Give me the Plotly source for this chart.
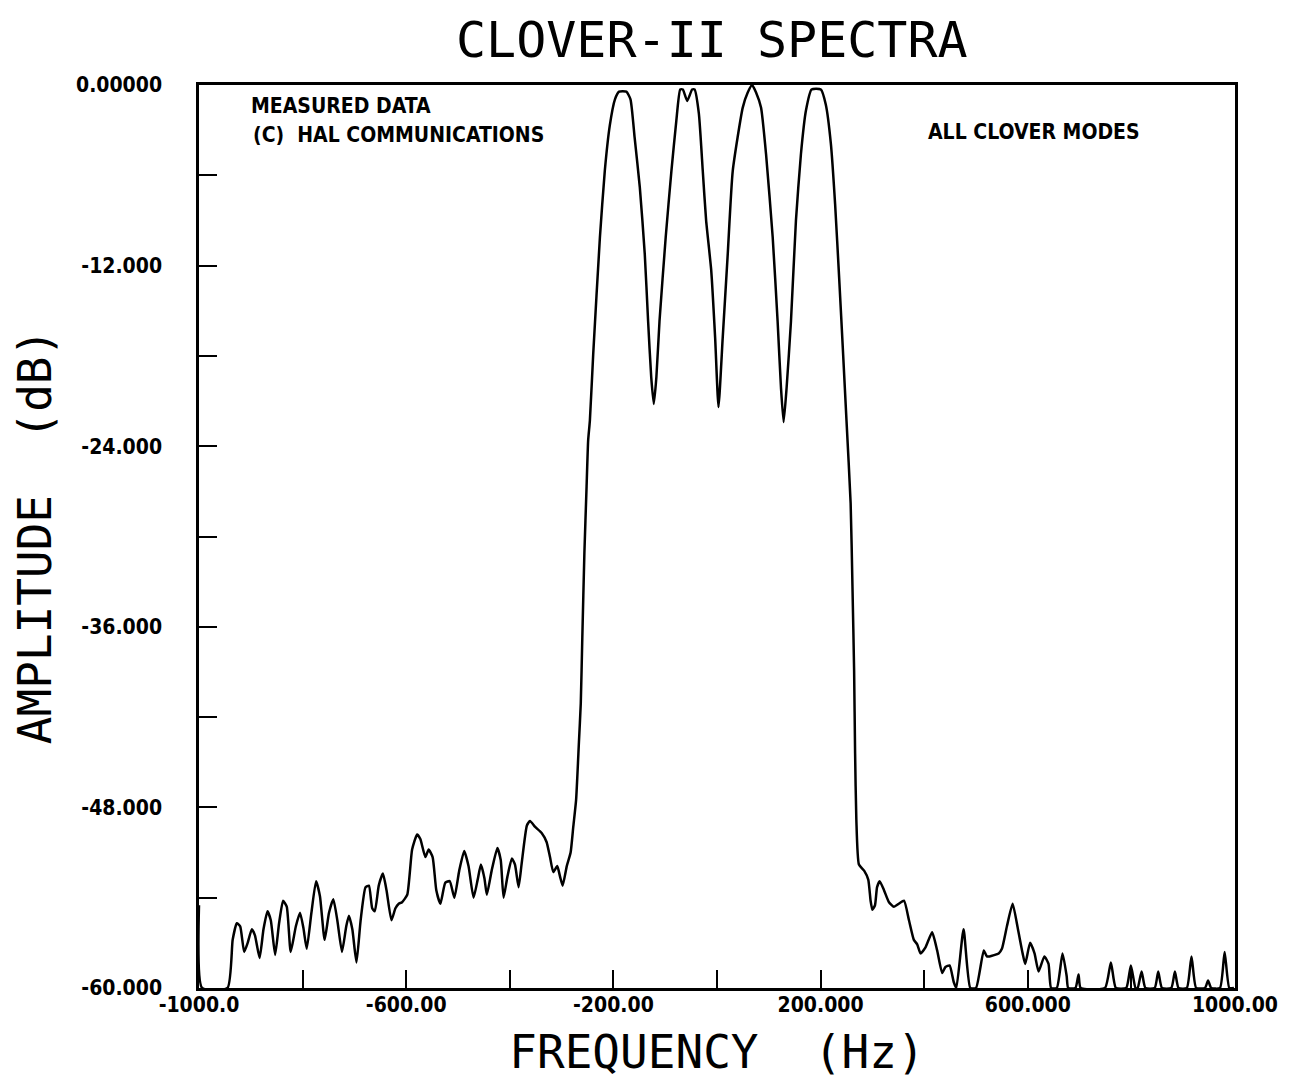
import plotly.graph_objects as go

# Frequency (Hz) and amplitude (dB)
freq = [-1000, -994, -945, -935, -927, -920.5, -912.8, -906, -898, -892, -883, -875.5, -867.8,
        -861.4, -853, -845.4, -837.7, -830.6, -823, -813, -805, -798.5, -792, -783, -774,
        -766.5, -757.5, -749, -740.7, -733, -724, -715.7, -710.6, -704, -696, -688, -678.5,
        -672, -665.6, -660.6, -653, -645, -638, -628.5, -620.8, -614.4, -608, -598, -588.6,
        -579, -572.7, -563, -556.7, -549, -541.9, -534, -524.5, -516, -507, -497.6, -488,
        -479.7, -470, -462, -455.8, -449, -444.3, -435, -424, -417.5, -412, -404.6, -396,
        -390, -383, -377, -367, -361, -351, -338.5, -329, -322.4, -316, -308.4, -303, -298,
        -290, -282.6, -277.5, -272, -266.6, -263, -260, -256, -251.8, -248.7, -245.4, -239,
        -226, -216.6, -207, -197, -189, -175, -167, -159, -149, -139.5, -133, -127, -122,
        -117, -111, -99, -88, -78.6, -71, -66, -57.5, -48, -43.3, -35, -27.5, -21, -11.2,
        -3.6, 2.9, 11, 20.8, 30.4, 49.7, 59.3, 67.7, 75.4, 85, 94.7, 107.5, 117, 123.5,
        128.6, 134.4, 142.8, 152.4, 162, 171.7, 182.5, 200.5, 210, 219.8, 228, 235.8,
        243.5, 250, 258, 261.5, 264.7, 266.6, 269, 274, 284, 292, 296.5, 300, 305, 309,
        314, 322.4, 332, 341.6, 351, 361, 370.6, 380, 386.5, 393, 402.5, 415.3, 425, 434.7,
        441, 449, 457, 462, 476, 489, 500, 515, 521, 526, 543.8, 550, 559.7, 570.7, 581,
        590, 595, 604.5, 613, 620.8, 632, 640, 645, 656, 667, 675, 678, 692, 698, 702,
        749, 760.4, 770, 790, 799, 808, 812, 819.7, 827, 845, 851.8, 859, 877, 884, 891,
        907, 916, 925, 942, 948, 954, 971, 980, 989, 998, 1000]
amp = [-54.5, -60, -60, -56.8, -55.7, -55.9, -57.6, -57.0, -56.1, -56.5, -58.0, -56.1, -54.9,
       -55.5, -57.8, -55.7, -54.2, -54.6, -57.6, -55.9, -55.0, -56.0, -57.4, -55.0, -52.9,
       -53.9, -56.8, -55.0, -54.1, -55.5, -57.6, -55.9, -55.2, -56.1, -58.3, -55.5, -53.3,
       -53.2, -54.7, -54.9, -53.2, -52.4, -53.5, -55.5, -54.7, -54.4, -54.3, -53.8, -50.8,
       -49.8, -50.1, -51.3, -50.8, -51.3, -53.5, -54.4, -53.0, -52.9, -54.0, -52.2, -50.9,
       -51.9, -54.0, -52.8, -51.8, -52.7, -53.8, -52.2, -50.7, -51.5, -54.0, -52.6, -51.4,
       -51.8, -53.3, -51.7, -49.2, -48.9, -49.3, -49.7, -50.3, -51.3, -52.3, -51.9, -52.6,
       -53.2, -51.9, -51.0, -49.3, -47.5, -43.7, -41.1, -36.7, -31.1, -26.7, -23.6, -22.3,
       -17.9, -10.1, -5.7, -2.7, -0.95, -0.44, -0.44, -0.95, -3.5, -6.8, -11.2, -15.7,
       -19.4, -21.2, -19.4, -15.7, -10.1, -5.7, -2.4, -0.3, -0.3, -1.06, -0.3, -0.3, -1.9,
       -5.7, -9.0, -12.3, -16.8, -21.4, -16.8, -11.2, -5.7, -1.5, -0.5, 0.0, -0.5, -1.5,
       -4.6, -10.1, -15.7, -20.1, -22.4, -20.1, -15.7, -9.0, -4.6, -1.7, -0.3, -0.3, -1.3,
       -3.9, -7.9, -12.8, -17.9, -22.3, -27.8, -33.3, -38.9, -44.4, -48.8, -51.8, -52.2,
       -52.8, -54.2, -54.8, -54.5, -53.3, -52.9, -53.5, -54.3, -54.6, -54.4, -54.2, -55.5,
       -56.8, -57.1, -57.7, -57.3, -56.3, -57.5, -59.0, -58.6, -58.5, -59.6, -60, -56.1,
       -60, -60, -57.5, -57.9, -57.9, -57.7, -57.4, -55.9, -54.4, -56.1, -57.7, -58.4,
       -57.0, -57.7, -58.9, -57.9, -58.4, -60, -60, -57.7, -59.2, -60, -60, -59.1, -60,
       -60, -58.3, -60, -60, -58.5, -60, -60, -58.9, -60, -60, -58.9, -60, -60, -58.9, -60,
       -60, -57.9, -60, -60, -59.5, -60, -60, -57.6, -60, -60]

x_tick_vals = [-1000, -600, -200, 200, 600, 1000]
x_tick_text = ["-1000.0", "-600.00", "-200.00", "200.000", "600.000", "1000.00"]
y_tick_vals = [0, -12, -24, -36, -48, -60]
y_tick_text = ["0.00000", "-12.000", "-24.000", "-36.000", "-48.000", "-60.000"]

label_font = dict(family="Liberation Sans Narrow, DejaVu Sans Condensed, sans-serif",
                  size=21, color="black", weight="bold")
mono_family = "DejaVu Sans Mono, monospace"
title_font = dict(family=mono_family, size=46, color="black", weight=300)

fig = go.Figure()
fig.add_trace(go.Scatter(x=freq, y=amp, mode="lines",
                         line=dict(color="black", width=2.5, shape="spline", smoothing=0.5),
                         showlegend=False))

fig.update_layout(
    width=1282, height=1077,
    paper_bgcolor="white", plot_bgcolor="white",
    margin=dict(l=191, r=53, t=77, b=97),
    title=dict(text="CLOVER-II SPECTRA", x=0.549, xanchor="center", y=0.971,
               yanchor="middle", font=dict(family=mono_family, size=50,
                                           color="black", weight=300)),
    xaxis=dict(range=[-1000, 1000], showgrid=False, zeroline=False,
               showline=True, linecolor="black", linewidth=2.5, mirror=True,
               ticks="inside", ticklen=18, tickwidth=2, tickcolor="black",
               tickvals=x_tick_vals, ticktext=x_tick_text, tickfont=label_font,
               minor=dict(dtick=200, tick0=0, ticks="inside", ticklen=18,
                          tickwidth=2, tickcolor="black", showgrid=False),
               ticklabelstandoff=-4,
               title=dict(text="FREQUENCY  (Hz)", font=title_font, standoff=20)),
    yaxis=dict(range=[-60, 0], showgrid=False, zeroline=False,
               showline=True, linecolor="black", linewidth=2.5, mirror=True,
               ticks="inside", ticklen=18, tickwidth=2, tickcolor="black",
               tickvals=y_tick_vals, ticktext=y_tick_text, tickfont=label_font,
               minor=dict(dtick=6, tick0=0, ticks="inside", ticklen=18,
                          tickwidth=2, tickcolor="black", showgrid=False),
               ticklabelstandoff=30,
               title=dict(text="AMPLITUDE  (dB)", font=title_font, standoff=14)),
)

ann_font = dict(family="Liberation Sans Narrow, DejaVu Sans Condensed, sans-serif",
                size=21, color="black", weight="bold")
fig.add_annotation(text="MEASURED DATA", xref="paper", yref="paper", x=0.048, y=0.977,
                   xanchor="left", yanchor="middle", showarrow=False, font=ann_font)
fig.add_annotation(text="(C)  HAL COMMUNICATIONS", xref="paper", yref="paper", x=0.05, y=0.945,
                   xanchor="left", yanchor="middle", showarrow=False, font=ann_font)
fig.add_annotation(text="ALL CLOVER MODES", xref="paper", yref="paper", x=0.7016, y=0.948,
                   xanchor="left", yanchor="middle", showarrow=False, font=ann_font)

fig.write_html("out.html")
